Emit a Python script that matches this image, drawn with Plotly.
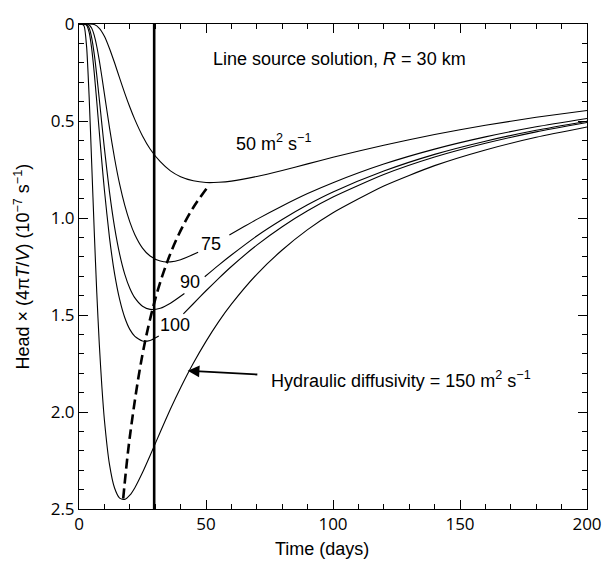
import plotly.graph_objects as go

# ---- data (time in days, scaled head) ----
time_50 = [0, 4, 6, 8, 10, 12, 14, 16, 18, 20, 22, 25, 28, 32, 36, 40, 45, 50, 55, 60, 70, 80, 90, 100, 120, 140, 160, 180, 200]
head_50 = [0, 0.0, 0.003, 0.022, 0.063, 0.126, 0.200, 0.279, 0.356, 0.428, 0.493, 0.577, 0.644, 0.710, 0.757, 0.787, 0.808, 0.817, 0.816, 0.810, 0.786, 0.755, 0.721, 0.687, 0.625, 0.570, 0.522, 0.481, 0.446]

time_75 = [0, 3, 4, 5, 6, 7, 8, 9, 10, 12, 14, 16, 18, 20, 22, 25, 28, 32, 36, 40, 46.9, None, 59.2, 65, 70, 80, 90, 100, 120, 140, 160, 180, 200]
head_75 = [0, 0.0004, 0.005, 0.022, 0.059, 0.116, 0.189, 0.272, 0.360, 0.534, 0.692, 0.826, 0.934, 1.020, 1.086, 1.155, 1.196, 1.222, 1.226, 1.215, 1.177, None, 1.088, 1.044, 1.007, 0.938, 0.874, 0.818, 0.722, 0.645, 0.582, 0.530, 0.487]

time_90 = [0, 3, 4, 5, 6, 7, 8, 9, 10, 12, 14, 16, 18, 20, 22, 25, 28, 32, 36, 41.5, None, 49.5, 55, 60, 70, 80, 90, 100, 120, 140, 160, 180, 200]
head_90 = [0, 0.0025, 0.021, 0.071, 0.155, 0.265, 0.389, 0.516, 0.641, 0.865, 1.047, 1.186, 1.289, 1.362, 1.412, 1.455, 1.471, 1.465, 1.439, 1.389, None, 1.303, 1.243, 1.191, 1.093, 1.008, 0.932, 0.866, 0.758, 0.672, 0.604, 0.548, 0.501]

time_100 = [0, 2, 3, 4, 5, 6, 7, 8, 9, 10, 12, 14, 16, 18, 20, 22, 25, 28, 31.4, None, 41.1, 45, 50, 55, 60, 70, 80, 90, 100, 120, 140, 160, 180, 200]
head_100 = [0, 0.0001, 0.0066, 0.043, 0.127, 0.252, 0.401, 0.558, 0.712, 0.856, 1.101, 1.287, 1.420, 1.513, 1.574, 1.610, 1.634, 1.631, 1.608, None, 1.494, 1.442, 1.375, 1.311, 1.250, 1.140, 1.045, 0.963, 0.892, 0.776, 0.686, 0.615, 0.556, 0.508]

time_150 = [0, 1, 2, 3, 4, 5, 6, 7, 8, 9, 10, 12, 14, 16, 18, 20, 22, 25, 28, 32, 36, 40, 45, 50, 55, 60, 70, 80, 90, 100, 120, 140, 160, 180, 200]
head_150 = [0, 0.0, 0.010, 0.118, 0.377, 0.719, 1.068, 1.385, 1.652, 1.869, 2.041, 2.270, 2.392, 2.444, 2.451, 2.429, 2.390, 2.312, 2.224, 2.103, 1.985, 1.875, 1.749, 1.636, 1.534, 1.444, 1.290, 1.165, 1.060, 0.973, 0.835, 0.730, 0.649, 0.584, 0.531]

# locus of minima (dashed)
time_min = [17.4, 20, 25, 30, 35, 40, 45, 50.5]
head_min = [2.447, 2.129, 1.703, 1.419, 1.217, 1.065, 0.946, 0.843]

# vertical marker
marker_day = 29.6

x_range = [0, 200]
y_range = [2.5, 0]
y_label_alias = {"1": "1.0", "2": "2.0"}

FONT = "Liberation Sans, Arial, Helvetica, sans-serif"

fig = go.Figure()

curve_line = dict(color="black", width=1.1, shape="spline", smoothing=0.6)
for tx, hy in [(time_50, head_50), (time_75, head_75), (time_90, head_90),
               (time_100, head_100), (time_150, head_150)]:
    fig.add_trace(go.Scatter(x=tx, y=hy, mode="lines", line=curve_line,
                             connectgaps=False, showlegend=False, hoverinfo="skip"))

fig.add_trace(go.Scatter(x=time_min, y=head_min, mode="lines",
                         line=dict(color="black", width=2.6, dash="10px,5px", shape="spline"),
                         showlegend=False, hoverinfo="skip"))

fig.add_trace(go.Scatter(x=[marker_day, marker_day], y=[0, 2.5], mode="lines",
                         line=dict(color="black", width=2.6),
                         showlegend=False, hoverinfo="skip"))

fig.update_xaxes(range=x_range, ticks="inside", ticklen=9, tickcolor="black",
                 showline=True, linecolor="black", showgrid=False, zeroline=False,
                 mirror="allticks", dtick=50, tick0=0,
                 minor=dict(ticks="inside", ticklen=5, dtick=10, tick0=0, tickwidth=1.2,
                            tickcolor="black", showgrid=False))
fig.update_yaxes(range=y_range, ticks="inside", ticklen=9, tickcolor="black",
                 showline=True, linecolor="black", showgrid=False, zeroline=False,
                 mirror="allticks", dtick=0.5, tick0=0, labelalias=y_label_alias,
                 minor=dict(ticks="inside", ticklen=5, dtick=0.1, tick0=0, tickwidth=1.2,
                            tickcolor="black", showgrid=False))

ann_font = dict(family=FONT, size=18, color="black")
annotations = [
    dict(x=51.8, y=0.18, xref="x", yref="y", text="Line source solution, <i>R</i> = 30 km",
         showarrow=False, xanchor="left", yanchor="middle", font=ann_font),
    dict(x=60.9, y=0.61, xref="x", yref="y", text="50 m<sup>2</sup> s<sup>−1</sup>",
         showarrow=False, xanchor="left", yanchor="middle", font=ann_font),
    dict(x=52.0, y=1.135, xref="x", yref="y", text="75",
         showarrow=False, xanchor="center", yanchor="middle", font=ann_font),
    dict(x=43.7, y=1.332, xref="x", yref="y", text="90",
         showarrow=False, xanchor="center", yanchor="middle", font=ann_font),
    dict(x=37.9, y=1.551, xref="x", yref="y", text="100",
         showarrow=False, xanchor="center", yanchor="middle", font=ann_font),
    dict(x=74.7, y=1.83, xref="x", yref="y", text="Hydraulic diffusivity = 150 m<sup>2</sup> s<sup>−1</sup>",
         showarrow=False, xanchor="left", yanchor="middle", font=ann_font),
    dict(x=42.8, y=1.787, xref="x", yref="y", ax=70.8, ay=1.807, axref="x", ayref="y",
         text="", showarrow=True, arrowhead=2, arrowsize=1.3, arrowwidth=1.8,
         arrowcolor="black", standoff=0),
    dict(x=0.478, y=-0.082, xref="paper", yref="paper", text="Time (days)",
         showarrow=False, xanchor="center", yanchor="middle", font=ann_font),
    dict(x=-0.112, y=0.5, xref="paper", yref="paper",
         text="Head × (4π<i>T</i>/<i>V</i>) (10<sup>−7</sup> s<sup>−1</sup>)",
         textangle=-90, showarrow=False, xanchor="center", yanchor="middle", font=ann_font),
]

fig.update_layout(
    width=614, height=562,
    margin=dict(l=79, r=19, t=19, b=53),
    plot_bgcolor="white",
    annotations=annotations,
    showlegend=False,
    font=dict(size=17, color="black"),
)

fig.write_html("out.html", config={"displayModeBar": False},
               post_script="document.body.style.margin='0';")
